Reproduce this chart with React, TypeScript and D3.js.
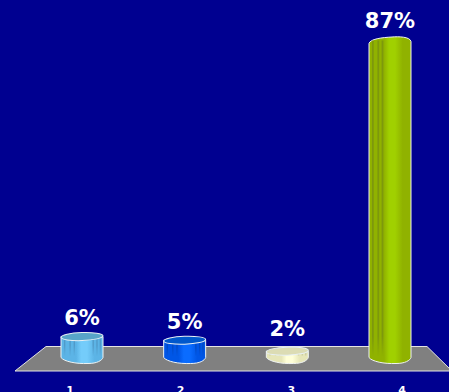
import React from "react";
import * as d3 from "d3";

const categories = ["1", "2", "3", "4"];
const shares = [6, 5, 2, 87];
const labelGaps = [11.5, 11, 15, 13];
const sideDark = ["#4f96c4", "#0048c0", "#c4c49c", "#7a9410"];
const sideBase = ["#5cb4e6", "#0056e6", "#e6e6b8", "#90b200"];
const sideLight = ["#74ccfa", "#0a6cff", "#ffffd8", "#a0d000"];
const topFill = ["#58a4c8", "#0058cc", "#dcdcb4", "#9cc800"];

const WIDTH = 449;
const HEIGHT = 392;
const RX = 21;
const RY = 4;
const BASE_Y = 358.5;

const barCenters = d3.scaleLinear().domain([0, 3]).range([82, 390]);
const tickCenters = d3.scaleLinear().domain([0, 3]).range([70, 402]);
const barHeight = d3.scaleLinear().domain([0, 87]).range([0, 318]);

const floorPath = d3.line()([
  [46, 346.5],
  [427, 346.5],
  [452, 371],
  [15, 371],
]) + "Z";

// Cylinder wall; the tallest bar carries its curved cap in the same outline.
function wallPath(cx: number, topY: number, capped: boolean): string {
  const p = d3.path();
  p.moveTo(cx - RX, capped ? topY + 3 : topY);
  p.lineTo(cx - RX, BASE_Y - 1);
  p.bezierCurveTo(cx - RX + 3, BASE_Y + 3, cx - 6, BASE_Y + 5.5, cx + 6, BASE_Y + 5);
  p.bezierCurveTo(cx + RX - 6, BASE_Y + 5, cx + RX - 1, BASE_Y + 2, cx + RX, BASE_Y - 1);
  p.lineTo(cx + RX, capped ? topY + 1 : topY);
  if (capped) {
    p.bezierCurveTo(cx + RX - 1, topY - 4, cx + 8, topY - 4, cx + 2, topY - 3.5);
    p.bezierCurveTo(cx - 8, topY - 3, cx - RX + 1, topY - 1.5, cx - RX, topY + 3);
  }
  p.closePath();
  return p.toString();
}

function Shading({ i }: { i: number }) {
  const stops: [number, string][] = [
    [0, sideBase[i]],
    [0.36, sideBase[i]],
    [0.48, sideLight[i]],
    [0.62, sideLight[i]],
    [0.8, sideBase[i]],
    [1, sideBase[i]],
  ];
  return (
    <linearGradient id={`wall-${i}`} x1="0" x2="1" y1="0" y2="0">
      {stops.map(([o, c], k) => (
        <stop key={k} offset={o} stopColor={c} />
      ))}
    </linearGradient>
  );
}

// Thin dark flutes running down the wall, strongest at the top.
const fluteOffsets = [0.07, 0.2, 0.3, 0.75, 0.84, 0.92];

function Flutes({ i, cx, topY }: { i: number; cx: number; topY: number }) {
  const h = BASE_Y - topY;
  const fade = i === 3 ? 22 : h * 0.6;
  const offsets = i === 3 ? fluteOffsets.slice(0, 3) : fluteOffsets;
  return (
    <g mask={`url(#fade-${i})`} opacity={0.85}>
      <mask id={`fade-${i}`} maskUnits="userSpaceOnUse" x={cx - RX} y={topY - 6} width={RX * 2} height={h + 12}>
        <rect x={cx - RX} y={topY - 6} width={RX * 2} height={h + 12} fill={`url(#fade-grad-${i})`} />
      </mask>
      <linearGradient id={`fade-grad-${i}`} gradientUnits="userSpaceOnUse" x1="0" x2="0" y1={BASE_Y - fade} y2={BASE_Y - 2}>
        <stop offset="0" stopColor="#fff" />
        <stop offset="1" stopColor="#000" />
      </linearGradient>
      {offsets.map((o) => (
        <rect
          key={o}
          x={cx - RX + o * RX * 2}
          y={topY}
          width={i === 3 ? 1.8 : 1.4}
          height={h}
          fill={sideDark[i]}
        />
      ))}
    </g>
  );
}

export default function App() {
  return (
    <svg
      width={WIDTH}
      height={HEIGHT}
      viewBox={`0 0 ${WIDTH} ${HEIGHT}`}
      style={{ position: "fixed", left: 0, top: 0, display: "block" }}
    >
      <defs>
        {categories.map((c, i) => (
          <Shading key={c} i={i} />
        ))}
      </defs>
      <rect width={WIDTH} height={HEIGHT} fill="#000090" />
      <path d={floorPath} fill="#808080" stroke="#e4e4e4" strokeWidth={1} />
      {categories.map((c, i) => {
        const cx = barCenters(i);
        const topY = BASE_Y - barHeight(shares[i]);
        const capped = i === 3;
        return (
          <g key={c}>
            <path
              d={wallPath(cx, topY, capped)}
              fill={`url(#wall-${i})`}
              stroke="#eef2f2"
              strokeWidth={1}
            />
            <Flutes i={i} cx={cx} topY={topY} />
            {!capped && (
              <ellipse
                cx={cx}
                cy={topY}
                rx={RX}
                ry={RY}
                fill={topFill[i]}
                stroke="#e8f0f4"
                strokeWidth={1}
                transform={`rotate(-2 ${cx} ${topY})`}
              />
            )}
            <text
              x={cx}
              y={topY - labelGaps[i]}
              textAnchor="middle"
              fontFamily="'DejaVu Sans', sans-serif"
              fontWeight={700}
              fontSize={21}
              fill="#ffffff"
            >
              {shares[i]}%
            </text>
            <text
              x={tickCenters(i)}
              y={394}
              textAnchor="middle"
              fontFamily="'DejaVu Sans', sans-serif"
              fontWeight={700}
              fontSize={11}
              fill="#ffffff"
            >
              {c}
            </text>
          </g>
        );
      })}
    </svg>
  );
}
